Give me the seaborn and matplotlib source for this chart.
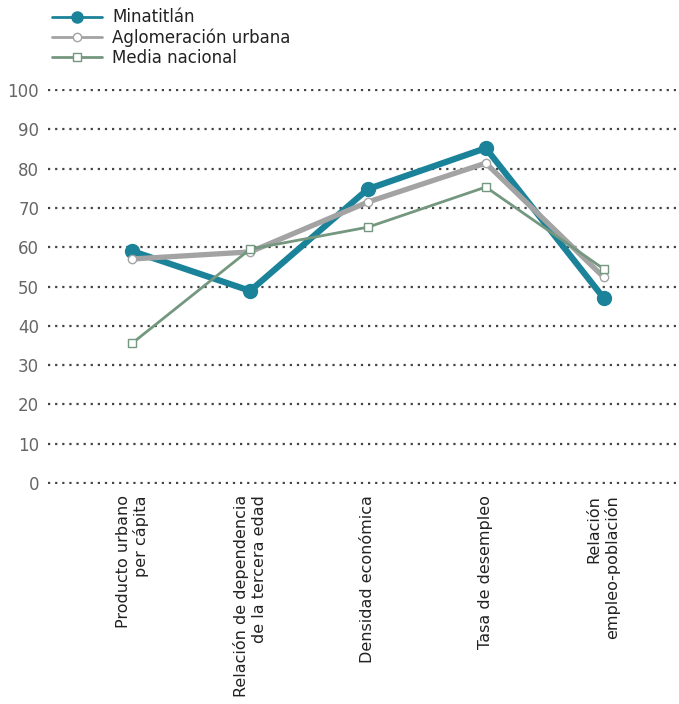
import pandas as pd
import seaborn as sns
import matplotlib.pyplot as plt

categorias = ["Producto urbano\nper cápita",
              "Relación de dependencia\nde la tercera edad",
              "Densidad económica",
              "Tasa de desempleo",
              "Relación\nempleo-población"]
minatitlan = [59.0, 48.9, 74.8, 85.2, 47.1]
aglomeracion = [57.0, 58.8, 71.5, 81.4, 52.4]
media_nacional = [35.6, 59.5, 65.1, 75.3, 54.5]
yticks = list(range(0, 101, 10))

sns.set_style("white")
plt.rcParams['font.family'] = ['DejaVu Sans']

fig = plt.figure(figsize=(6.79, 7.04), dpi=100)
# y=0 at pixel 483, y=100 at pixel 90
ax = fig.add_axes([0.07, (704 - 484) / 704, 0.93, 395 / 704])

x = list(range(len(categorias)))
series = [
    ("Minatitlán", minatitlan, "#1b8399", 4.5, "o", 10, "#1b8399"),
    ("Aglomeración urbana", aglomeracion, "#a3a3a3", 3.8, "o", 6, "white"),
    ("Media nacional", media_nacional, "#74977f", 2.0, "s", 6, "white"),
]
for name, vals, col, lw, mk, ms, mfc in series:
    df = pd.DataFrame({"x": x, "y": vals})
    sns.lineplot(data=df, x="x", y="y", ax=ax, color=col, linewidth=lw,
                 marker=mk, markersize=ms, markerfacecolor=mfc,
                 markeredgecolor=col, markeredgewidth=1.0, label=name,
                 clip_on=False, zorder=3)

ax.set_xlim(-0.72, 4.64)
ax.set_ylim(-0.25, 100.25)
ax.set_yticks(yticks)
ax.set_yticklabels([str(t) for t in yticks], fontsize=12, color="#666666")
ax.yaxis.grid(True, linestyle=(0, (1, 2.2)), color="#444444", linewidth=1.6)
ax.set_axisbelow(True)
for s in ax.spines.values():
    s.set_visible(False)
ax.tick_params(axis="y", length=0, pad=6)
ax.tick_params(axis="x", length=0, pad=8)
ax.set_xticks(x)
ax.set_xticklabels(categorias, rotation=90, fontsize=11.5, color="#222222",
                   ha="center", va="top", multialignment="right")
ax.set_xlabel("")
ax.set_ylabel("")

leg = ax.legend(loc="upper left", bbox_to_anchor=(-0.003, 1.221), frameon=False,
                fontsize=12, handlelength=3.0, handletextpad=0.6,
                labelspacing=0.13, borderaxespad=0)
for t in leg.get_texts():
    t.set_color("#222222")
for h, ms in zip(leg.legend_handles, [8, 6, 6]):
    h.set_linewidth(2.0)
    h.set_markersize(ms)

fig.savefig("out.png", dpi=100)
